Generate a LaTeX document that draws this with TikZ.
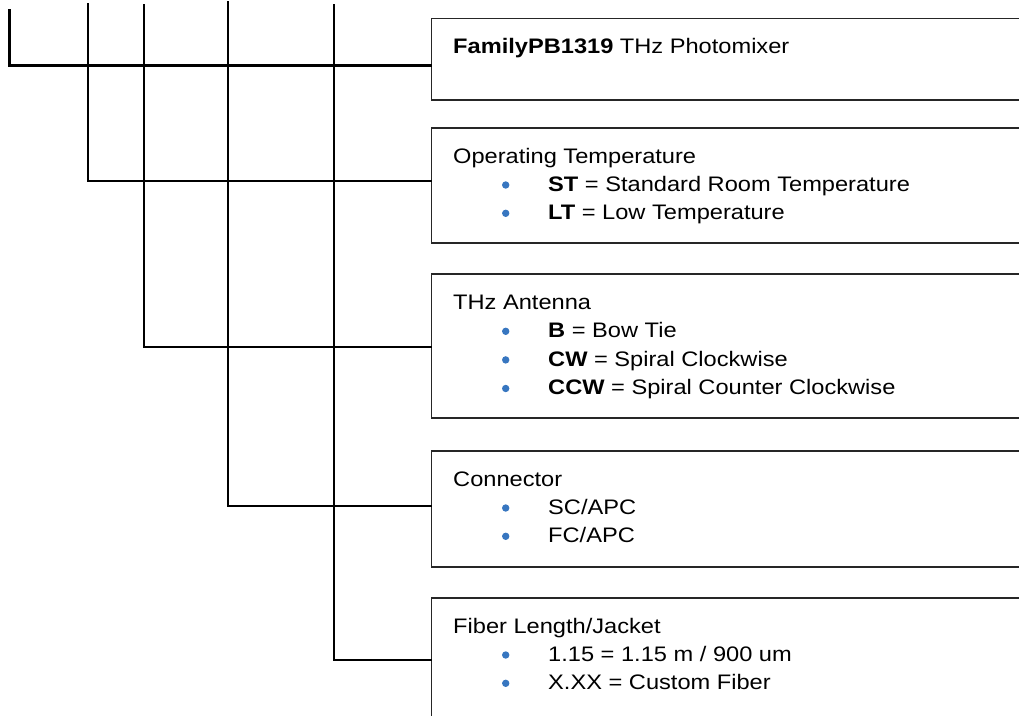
\documentclass[tikz,border=0pt]{standalone}
\usepackage{fontspec}
\setmainfont{Liberation Sans}
\usepackage{graphicx}
\definecolor{bulblue}{RGB}{55,118,192}
\newcommand{\sx}[1]{\scalebox{1.125}[1]{#1}}
\begin{document}
\begin{tikzpicture}[x=1pt,y=-1pt,
  wire/.style={line width=2.4pt, black},
  boxst/.style={draw=black!85, line width=1.8pt, rectangle, anchor=north west, inner sep=0pt, outer sep=0pt, minimum width=640pt},
  txt/.style={anchor=base west, inner sep=0pt, font=\fontsize{21}{25}\selectfont},
  bul/.style={circle, fill=bulblue, inner sep=0pt, minimum size=7.4pt}]
\useasboundingbox (0,0) rectangle (1019,715);
\clip (0,0) rectangle (1019,715);

% boxes
\node[boxst, minimum height=81.5pt] (b1) at (431.5,18.5) {};
\node[boxst, minimum height=115pt] (b2) at (431.5,128) {};
\node[boxst, minimum height=144pt] (b3) at (431.5,274) {};
\node[boxst, minimum height=116pt] (b4) at (431.5,451) {};
\node[boxst, minimum height=150pt] (b5) at (431.5,598) {};

% connector free ends
\coordinate (v1) at (9.3,9);
\coordinate (v2) at (87.7,3);
\coordinate (v3) at (144,4);
\coordinate (v4) at (228,1);
\coordinate (v5) at (334,4);

\draw[wire] (v1) |- ([yshift=-47pt]b1.north west);
\draw[wire] (v2) |- ([yshift=-53pt]b2.north west);
\draw[wire] (v3) |- ([yshift=-73pt]b3.north west);
\draw[wire] (v4) |- ([yshift=-55pt]b4.north west);
\draw[wire] (v5) |- ([yshift=-62pt]b5.north west);

% box 1
\node[txt] (t1) at (453,53) {\sx{\textbf{FamilyPB1319} THz Photomixer}};

% box 2
\node[txt] (t2) at (453,163) {\sx{Operating Temperature}};
\node[bul] (d2a) at (505.7,185) {};
\node[txt] (t2a) at (548,191.3) {\sx{\textbf{ST} = Standard Room Temperature}};
\node[bul] (d2b) at (505.7,213.3) {};
\node[txt] (t2b) at (548,219.6) {\sx{\textbf{LT} = Low Temperature}};

% box 3
\node[txt] (t3) at (453,309) {\sx{THz Antenna}};
\node[bul] (d3a) at (505.7,331.3) {};
\node[txt] (t3a) at (548,337.6) {\sx{\textbf{B} = Bow Tie}};
\node[bul] (d3b) at (505.7,359.9) {};
\node[txt] (t3b) at (548,366.2) {\sx{\textbf{CW} = Spiral Clockwise}};
\node[bul] (d3c) at (505.7,388.5) {};
\node[txt] (t3c) at (548,394.8) {\sx{\textbf{CCW} = Spiral Counter Clockwise}};

% box 4
\node[txt] (t4) at (453,486) {\sx{Connector}};
\node[bul] (d4a) at (505.7,508) {};
\node[txt] (t4a) at (548,514.3) {\sx{SC/APC}};
\node[bul] (d4b) at (505.7,536.3) {};
\node[txt] (t4b) at (548,542.6) {\sx{FC/APC}};

% box 5
\node[txt] (t5) at (453,633) {\sx{Fiber Length/Jacket}};
\node[bul] (d5a) at (505.7,655) {};
\node[txt] (t5a) at (548,661.3) {\sx{1.15 = 1.15 m / 900 um}};
\node[bul] (d5b) at (505.7,683.3) {};
\node[txt] (t5b) at (548,689.6) {\sx{X.XX = Custom Fiber}};
\end{tikzpicture}
\end{document}
